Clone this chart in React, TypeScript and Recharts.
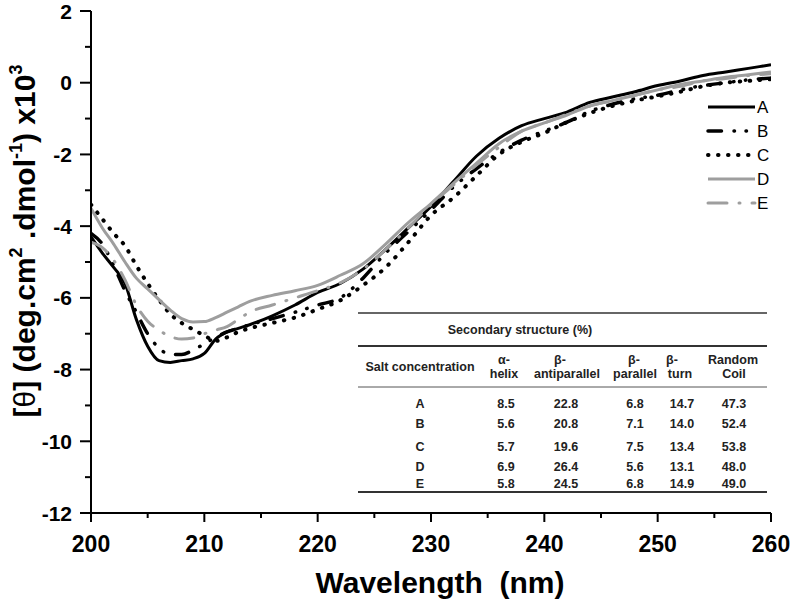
import React from 'react';
import { LineChart, Line, XAxis, YAxis } from 'recharts';

const wavelengths = [200, 201, 202, 203, 204, 205, 206, 207, 208, 209, 210, 211, 212, 213, 214, 216, 218, 220, 222, 224, 226, 228, 230, 232, 234, 236, 238, 240, 242, 244, 246, 248, 250, 252, 254, 256, 258, 260];
const seriesA = [-4.3, -4.75, -5.15, -5.6, -6.6, -7.35, -7.75, -7.8, -7.75, -7.7, -7.55, -7.15, -6.95, -6.85, -6.75, -6.5, -6.2, -5.85, -5.6, -5.2, -4.65, -4.05, -3.45, -2.75, -2.05, -1.55, -1.2, -1.0, -0.82, -0.55, -0.4, -0.25, -0.08, 0.05, 0.2, 0.3, 0.4, 0.5];
const seriesB = [-4.2, -4.5, -5.1, -5.8, -6.4, -7.0, -7.4, -7.58, -7.58, -7.46, -7.28, -7.1, -6.95, -6.85, -6.75, -6.58, -6.4, -6.2, -6.0, -5.45, -4.75, -4.15, -3.55, -2.9, -2.4, -1.95, -1.6, -1.35, -1.1, -0.8, -0.6, -0.45, -0.35, -0.2, -0.08, 0.0, 0.08, 0.13];
const seriesC = [-3.4, -3.8, -4.2, -4.55, -5.1, -5.6, -6.05, -6.45, -6.7, -6.88, -7.05, -7.2, -7.1, -6.95, -6.85, -6.7, -6.55, -6.32, -6.07, -5.65, -5.15, -4.45, -3.7, -3.2, -2.6, -2.0, -1.65, -1.4, -1.1, -0.85, -0.65, -0.5, -0.38, -0.25, -0.1, 0.0, 0.05, 0.1];
const seriesD = [-3.5, -4.05, -4.5, -5.0, -5.45, -5.75, -6.05, -6.34, -6.58, -6.67, -6.66, -6.55, -6.4, -6.25, -6.1, -5.93, -5.8, -5.65, -5.37, -5.05, -4.5, -3.9, -3.37, -2.8, -2.25, -1.7, -1.35, -1.12, -0.9, -0.65, -0.5, -0.35, -0.2, -0.05, 0.05, 0.15, 0.22, 0.3];
const seriesE = [-4.45, -4.6, -4.95, -5.5, -6.2, -6.65, -6.9, -7.08, -7.15, -7.12, -7.0, -6.9, -6.8, -6.6, -6.4, -6.2, -6.0, -5.8, -5.58, -5.2, -4.65, -4.05, -3.4, -2.85, -2.3, -1.8, -1.35, -1.12, -0.88, -0.65, -0.5, -0.35, -0.2, -0.1, 0.05, 0.12, 0.2, 0.25];

const xTicks = [200, 205, 210, 215, 220, 225, 230, 235, 240, 245, 250, 255, 260];
const yTicks = [-12, -11, -10, -9, -8, -7, -6, -5, -4, -3, -2, -1, 0, 1, 2];

const seriesNames = ['A', 'B', 'C', 'D', 'E'];
const tableRows = ['A', 'B', 'C', 'D', 'E'];
const alphaHelix = ['8.5', '5.6', '5.7', '6.9', '5.8'];
const betaAnti = ['22.8', '20.8', '19.6', '26.4', '24.5'];
const betaPar = ['6.8', '7.1', '7.5', '5.6', '6.8'];
const betaTurn = ['14.7', '14.0', '13.4', '13.1', '14.9'];
const randomCoil = ['47.3', '52.4', '53.8', '48.0', '49.0'];

const rows = wavelengths.map((nm, i) => ({
  nm,
  A: seriesA[i],
  B: seriesB[i],
  C: seriesC[i],
  D: seriesD[i],
  E: seriesE[i],
}));

const FONT = '"Liberation Sans", Arial, Helvetica, sans-serif';
const GRAY = '#9e9e9e';

const styles: Record<string, { stroke: string; width: number; dash?: string; cap: 'round' | 'butt' }> = {
  A: { stroke: '#000', width: 3, cap: 'butt' },
  B: { stroke: '#000', width: 3.5, dash: '13.5 12.5 0.5 11.5 0.5 12.5', cap: 'round' },
  C: { stroke: '#000', width: 4, dash: '0.5 9.5', cap: 'round' },
  D: { stroke: GRAY, width: 3, cap: 'butt' },
  E: { stroke: GRAY, width: 3, dash: '19 12 1 12', cap: 'round' },
};

const XTick = (props: any) => {
  const { x, y, payload } = props;
  const major = payload.value % 10 === 0;
  return (
    <g>
      <line x1={x} x2={x} y1={y} y2={y + (major ? 9 : 5)} stroke="#000" strokeWidth={2} />
      {major && (
        <text x={x} y={y + 39} textAnchor="middle" fontSize={23} fontWeight="bold" fontFamily={FONT} fill="#000">
          {payload.value}
        </text>
      )}
    </g>
  );
};

const YTick = (props: any) => {
  const { x, y, payload } = props;
  const major = payload.value % 2 === 0;
  return (
    <g>
      <line x1={x} x2={x - (major ? 11 : 6)} y1={y} y2={y} stroke="#000" strokeWidth={2} />
      {major && (
        <text x={x - 19} y={y + 7.5} textAnchor="end" fontSize={21} fontWeight="bold" fontFamily={FONT} fill="#000">
          {payload.value}
        </text>
      )}
    </g>
  );
};

const Legend = () => (
  <g>
    {seriesNames.map((n, i) => {
      const s = styles[n];
      const y = 107 + i * 24;
      return (
        <g key={n}>
          <line x1={708} x2={755} y1={y} y2={y} stroke={s.stroke} strokeWidth={s.width} strokeDasharray={s.dash} strokeLinecap={s.cap} />
          <text x={757} y={y + 6} fontSize={17} fontFamily={FONT} fill="#000">{n}</text>
        </g>
      );
    })}
  </g>
);

const Table = () => {
  const t = { fontSize: 12.5, fontWeight: 'bold' as const, fontFamily: FONT, fill: '#222', textAnchor: 'middle' as const };
  const rowY = [403, 423, 446, 466, 483];
  const colX = [420, 506, 566, 635, 682, 734];
  const cols = [tableRows, alphaHelix, betaAnti, betaPar, betaTurn, randomCoil];
  return (
    <g>
      <line x1={358} x2={767} y1={313} y2={313} stroke="#333" strokeWidth={1.5} />
      <text {...t} x={520} y={334}>Secondary structure (%)</text>
      <line x1={358} x2={767} y1={346} y2={346} stroke="#333" strokeWidth={2} />
      <text {...t} x={420} y={371}>Salt concentration</text>
      <text {...t} x={504} y={364}>α-</text>
      <text {...t} x={504} y={378}>helix</text>
      <text {...t} x={560} y={364}>β-</text>
      <text {...t} x={567} y={378}>antiparallel</text>
      <text {...t} x={634} y={364}>β-</text>
      <text {...t} x={635} y={378}>parallel</text>
      <text {...t} x={672} y={364}>β-</text>
      <text {...t} x={680} y={378}>turn</text>
      <text {...t} x={733} y={364}>Random</text>
      <text {...t} x={734} y={378}>Coil</text>
      <line x1={358} x2={767} y1={387} y2={387} stroke="#555" strokeWidth={1} />
      {cols.map((col, ci) =>
        col.map((v, ri) => (
          <text key={ci + '-' + ri} {...t} x={colX[ci]} y={rowY[ri] + 4.5}>{v}</text>
        ))
      )}
      <line x1={358} x2={767} y1={492} y2={492} stroke="#333" strokeWidth={2} />
    </g>
  );
};

const Titles = () => (
  <g>
    <text x={440} y={593} textAnchor="middle" fontSize={30} fontWeight="bold" fontFamily={FONT} fill="#000">
      {'Wavelength\u00a0 (nm)'}
    </text>
    <text x={35} y={241} transform="rotate(-90 35 241)" textAnchor="middle" fontSize={30} fontWeight="bold" fontFamily={FONT} fill="#000">
      [<tspan fontWeight="normal">θ</tspan>] (deg.cm<tspan dy={-13} fontSize={18}>2</tspan><tspan dy={13}> .dmol</tspan><tspan dy={-13} fontSize={18}>-1</tspan><tspan dy={13}>) x10</tspan><tspan dy={-13} fontSize={18}>3</tspan>
    </text>
  </g>
);

export default function App() {
  return (
    <div style={{ position: 'absolute', left: 0, top: 0, width: 791, height: 599, background: '#fff' }}>
      <LineChart width={791} height={599} data={rows} margin={{ top: 11, right: 20, bottom: 0, left: 0 }}>
        <XAxis
          dataKey="nm"
          type="number"
          domain={[200, 260]}
          ticks={xTicks}
          interval={0}
          height={86}
          tickLine={false}
          tickSize={0}
          tickMargin={0}
          tick={(p: any) => <XTick {...p} />}
          axisLine={{ stroke: '#000', strokeWidth: 2 }}
          allowDataOverflow
        />
        <YAxis
          type="number"
          domain={[-12, 2]}
          ticks={yTicks}
          interval={0}
          width={91}
          tickLine={false}
          tickSize={0}
          tickMargin={0}
          tick={(p: any) => <YTick {...p} />}
          axisLine={{ stroke: '#000', strokeWidth: 2 }}
          allowDataOverflow
        />
        {seriesNames.map((n) => {
          const s = styles[n];
          return (
            <Line
              key={n}
              dataKey={n}
              type="monotone"
              stroke={s.stroke}
              strokeWidth={s.width}
              strokeDasharray={s.dash}
              strokeLinecap={s.cap}
              dot={false}
              activeDot={false}
              isAnimationActive={false}
            />
          );
        })}
        <Table />
        <Legend />
        <Titles />
      </LineChart>
    </div>
  );
}
